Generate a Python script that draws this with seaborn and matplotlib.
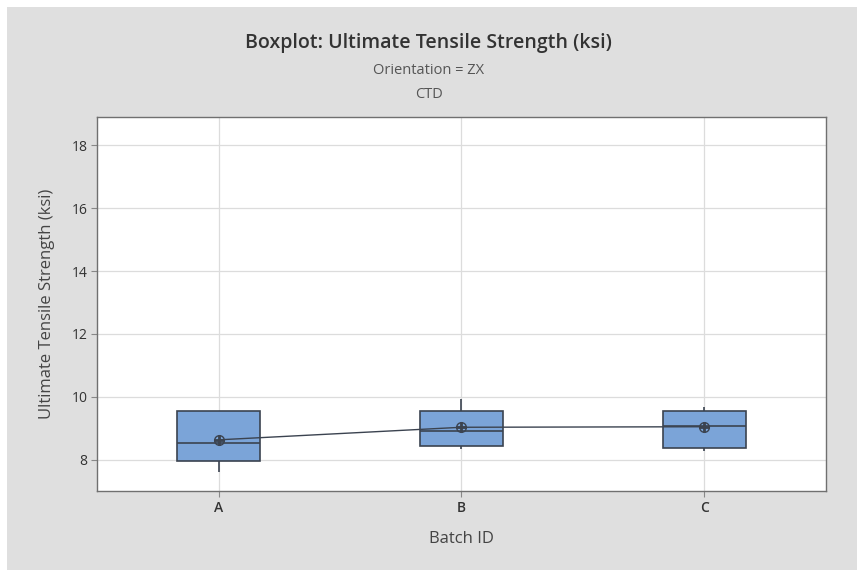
import matplotlib
matplotlib.use("Agg")
import matplotlib.pyplot as plt
import matplotlib.patches as mpatches
import seaborn as sns
import pandas as pd

batches = ["A", "B", "C"]
values_A = [7.59, 7.97, 8.52, 9.53, 9.53]
values_B = [8.35, 8.42, 8.90, 9.53, 9.94]
values_C = [8.26, 8.30, 8.36, 9.05, 9.08, 9.50, 9.53, 9.66, 9.66]
yticks = [8, 10, 12, 14, 16, 18]

df = pd.DataFrame({
    "Batch ID": ["A"] * len(values_A) + ["B"] * len(values_B) + ["C"] * len(values_C),
    "UTS": values_A + values_B + values_C,
})

sns.set_theme(style="white")
plt.rcParams["font.family"] = ["Open Sans", "DejaVu Sans"]

fig = plt.figure(figsize=(8.57, 5.70), dpi=100, facecolor="#dfdfdf")
# thin white strips along the top and left edges
fig.patches.append(mpatches.Rectangle((0, 1 - 7 / 570), 1, 7 / 570 + 0.01,
                                      transform=fig.transFigure, facecolor="white",
                                      edgecolor="none", zorder=-10))
fig.patches.append(mpatches.Rectangle((-0.01, 0), 7 / 857 + 0.01, 1.01,
                                      transform=fig.transFigure, facecolor="white",
                                      edgecolor="none", zorder=-10))
ax = fig.add_axes([0.1132, 0.1386, 0.8506, 0.6561])
ax.set_facecolor("white")

edge = "#3b4350"
sns.boxplot(data=df, x="Batch ID", y="UTS", order=batches, ax=ax, width=0.34,
            color="#7ba4d8", whis=10,
            boxprops=dict(facecolor="#7ba4d8", edgecolor=edge, linewidth=1.2),
            medianprops=dict(color=edge, linewidth=1.2),
            whiskerprops=dict(color=edge, linewidth=1.2),
            capprops=dict(linewidth=0),
            showfliers=False, zorder=3)
n_before = len(ax.lines)
sns.pointplot(data=df, x="Batch ID", y="UTS", order=batches, ax=ax,
              estimator="mean", errorbar=None, color=edge, markers="o",
              markersize=7, linewidth=1.0, zorder=5)
for ln in ax.lines[n_before:]:
    ln.set_markerfacecolor("none")
    ln.set_markeredgewidth(1.0)
sns.pointplot(data=df, x="Batch ID", y="UTS", order=batches, ax=ax,
              estimator="mean", errorbar=None, color=edge, markers="+",
              markersize=7, linestyle="none", zorder=6)

ax.set_xlim(-0.5, 2.5)
ax.set_ylim(7.0, 18.9)
ax.set_yticks(yticks)
ax.set_yticklabels([str(t) for t in yticks], fontsize=10, color="#333333")
ax.set_xticks(range(len(batches)))
ax.set_xticklabels(batches, fontsize=10, fontweight="semibold", color="#333333")
ax.grid(True, color="#dcdcdc", linewidth=0.9, zorder=0)
ax.set_axisbelow(True)
ax.tick_params(axis="both", which="both", length=4, width=0.8, color="#888888",
               left=True, bottom=True, pad=3)
for s in ax.spines.values():
    s.set_color("#707070")
    s.set_linewidth(1.0)

ax.set_xlabel("Batch ID", fontsize=12, color="#444444", labelpad=12)
ax.set_ylabel("Ultimate Tensile Strength (ksi)", fontsize=12, color="#444444", labelpad=12)

fig.text(0.5, 0.924, "Boxplot: Ultimate Tensile Strength (ksi)", ha="center", va="center",
         fontsize=14, fontweight="semibold", color="#333333")
fig.text(0.5, 0.876, "Orientation = ZX", ha="center", va="center", fontsize=10.5, color="#555555")
fig.text(0.5, 0.835, "CTD", ha="center", va="center", fontsize=10.5, color="#555555")

fig.savefig("out.png", dpi=100, facecolor=fig.get_facecolor())
